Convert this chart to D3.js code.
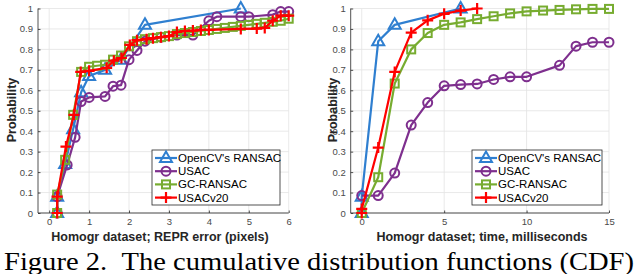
<!DOCTYPE html>
<html>
<head>
<meta charset="utf-8">
<script src="https://cdn.jsdelivr.net/npm/d3@7"></script>
<style>
  body { margin: 0; background: #fff; }
  svg { display: block; font-family: "Liberation Sans", Arial, sans-serif; }
</style>
</head>
<body>
<svg id="fig" width="636" height="274"></svg>
<script>
// series names and colours
const seriesNames = ["OpenCV's RANSAC", "USAC", "GC-RANSAC", "USACv20"];
const seriesColors = ["#2f7fd0", "#7e2f8e", "#77ac30", "#ff0000"];
const seriesMarkers = ["triangle", "circle", "square", "plus"];

// left panel: REPR error (pixels) -> probability
const errOpencv = [[0.2,0],[0.2,0.08],[0.4,0.24],[0.6,0.41],[0.8,0.59],[1.0,0.67],[1.4,0.7],[1.8,0.75],[2.4,0.92],[4.8,1.0]];
const errUsac = [[0.2,0],[0.2,0.08],[0.45,0.235],[0.65,0.37],[0.8,0.545],[1.0,0.565],[1.4,0.57],[1.6,0.62],[1.8,0.625],[2.0,0.75],[2.2,0.795],[2.4,0.84],[2.8,0.86],[3.2,0.87],[3.6,0.87],[4.0,0.94],[4.2,0.96],[4.8,0.96],[5.0,0.96],[5.6,0.97],[5.8,0.985],[6.0,0.985]];
const errGc = [[0.2,0],[0.2,0.09],[0.4,0.26],[0.6,0.48],[0.8,0.69],[1.0,0.715],[1.2,0.72],[1.4,0.725],[1.6,0.75],[1.8,0.77],[2.0,0.815],[2.2,0.84],[2.4,0.85],[2.6,0.855],[2.8,0.86],[3.0,0.865],[3.2,0.875],[3.4,0.88],[3.6,0.885],[3.8,0.89],[4.0,0.895],[4.2,0.9],[4.4,0.905],[4.6,0.91],[4.8,0.915],[5.0,0.92],[5.2,0.925],[5.4,0.93],[5.6,0.935],[5.8,0.94],[6.0,0.95]];
const errV20 = [[0.2,0],[0.2,0.08],[0.42,0.325],[0.62,0.48],[0.79,0.69],[1.0,0.695],[1.44,0.71],[1.62,0.745],[1.81,0.758],[2.02,0.822],[2.2,0.845],[2.44,0.85],[2.6,0.855],[2.8,0.86],[3.0,0.865],[3.2,0.885],[3.4,0.89],[3.6,0.892],[3.8,0.895],[4.0,0.895],[4.8,0.9],[5.2,0.902],[5.4,0.905],[5.6,0.94],[5.8,0.965],[6.0,0.965]];

// right panel: time (milliseconds) -> probability
const timeOpencv = [[0,0],[0,0.08],[1,0.84],[2,0.92],[6,1.0]];
const timeUsac = [[0,0.085],[1,0.085],[2,0.195],[3,0.43],[4,0.54],[5,0.622],[6,0.628],[7,0.631],[8,0.653],[9,0.666],[10,0.666],[12,0.722],[13,0.816],[14,0.835],[15,0.835]];
const timeGc = [[0,0],[1,0.175],[2,0.633],[3,0.8],[4,0.88],[5,0.92],[6,0.932],[7,0.948],[8,0.962],[9,0.976],[10,0.986],[11,0.99],[12,0.993],[13,0.996],[14,0.998],[15,0.998]];
const timeV20 = [[0,0],[0,0.02],[1,0.32],[2,0.69],[3,0.882],[4,0.942],[5,0.974],[6,0.99],[7,1.0]];

const yTicks = [0,0.1,0.2,0.3,0.4,0.5,0.6,0.7,0.8,0.9,1];
const errTicks = [0,1,2,3,4,5,6];
const timeTicks = [0,5,10,15];

const svg = d3.select("#fig");

function marker(g, type, x, y, color) {
  if (type === "triangle") {
    g.append("path").attr("d", `M${x},${y-6.5}L${x+6},${y+4}L${x-6},${y+4}Z`)
      .attr("fill", "none").attr("stroke", color).attr("stroke-width", 2);
  } else if (type === "circle") {
    g.append("circle").attr("cx", x).attr("cy", y).attr("r", 4.5)
      .attr("fill", "none").attr("stroke", color).attr("stroke-width", 2);
  } else if (type === "square") {
    g.append("rect").attr("x", x-4).attr("y", y-4).attr("width", 8).attr("height", 8)
      .attr("fill", "none").attr("stroke", color).attr("stroke-width", 2);
  } else {
    g.append("path").attr("d", `M${x-5.5},${y}H${x+5.5}M${x},${y-5.5}V${y+5.5}`)
      .attr("fill", "none").attr("stroke", color).attr("stroke-width", 2.2);
  }
}

function panel(opts) {
  const x = d3.scaleLinear().domain(opts.xDomain).range(opts.xRange);
  const y = d3.scaleLinear().domain([0, 1]).range([213, 8.5]);
  const g = svg.append("g");
  const [x0, x1] = opts.xRange;

  // grid
  g.selectAll(".gx").data(opts.xTicks).enter().append("line")
    .attr("x1", d => x(d)).attr("x2", d => x(d)).attr("y1", y(0)).attr("y2", y(1))
    .attr("stroke", "#e3e3e3").attr("stroke-width", 0.8);
  g.selectAll(".gy").data(yTicks).enter().append("line")
    .attr("x1", x0).attr("x2", x1).attr("y1", d => y(d)).attr("y2", d => y(d))
    .attr("stroke", "#e3e3e3").attr("stroke-width", 0.8);

  // axes
  const ax = g.append("g").attr("transform", `translate(0,${y(0)})`)
    .call(d3.axisBottom(x).tickValues(opts.xTicks).tickSize(-2.5).tickPadding(5).tickFormat(d3.format("d")));
  const ay = g.append("g").attr("transform", `translate(${x0},0)`)
    .call(d3.axisLeft(y).tickValues(yTicks).tickSize(-2.5).tickPadding(5).tickFormat(d => d === 0 || d === 1 ? d : d3.format(".1f")(d)));
  [ax, ay].forEach(a => {
    a.select(".domain").attr("stroke", "#262626").attr("stroke-width", 0.8);
    a.selectAll(".tick line").attr("stroke", "#262626").attr("stroke-width", 0.8);
    a.selectAll("text").attr("fill", "#4a4a4a").attr("font-size", 9.5).attr("font-family", "Liberation Sans, Arial, sans-serif");
  });
  ax.select(".domain").attr("d", `M${x0},0H${x1}`);
  ay.select(".domain").attr("d", `M0,${y(0)}V${y(1)}`);

  // series
  const line = d3.line().x(d => x(d[0])).y(d => y(d[1]));
  opts.data.forEach((pts, i) => {
    const s = g.append("g");
    s.append("path").datum(pts).attr("d", line)
      .attr("fill", "none").attr("stroke", seriesColors[i]).attr("stroke-width", 2.2)
      .attr("stroke-linejoin", "round");
    pts.forEach(p => marker(s, seriesMarkers[i], x(p[0]), y(p[1]), seriesColors[i]));
  });

  // labels
  g.append("text").attr("x", opts.xLabelX).attr("y", 241).attr("text-anchor", "middle")
    .attr("font-size", 12.5).attr("font-weight", "bold").attr("fill", "#262626").text(opts.xLabel);
  g.append("text").attr("transform", `translate(${opts.yLabelX},110) rotate(-90)`).attr("text-anchor", "middle")
    .attr("font-size", 12.5).attr("font-weight", "bold").attr("fill", "#262626").text("Probability");

  // legend
  const [lx, ly, lw, lh] = opts.legend;
  const lg = g.append("g");
  lg.append("rect").attr("x", lx).attr("y", ly).attr("width", lw).attr("height", lh)
    .attr("fill", "#fff").attr("stroke", "#262626").attr("stroke-width", 0.8);
  seriesNames.forEach((name, i) => {
    const ry = ly + 8 + i * 13.2;
    lg.append("line").attr("x1", lx + 3).attr("x2", lx + 25).attr("y1", ry).attr("y2", ry)
      .attr("stroke", seriesColors[i]).attr("stroke-width", 2.2);
    marker(lg, seriesMarkers[i], lx + 14, ry, seriesColors[i]);
    lg.append("text").attr("x", lx + 26).attr("y", ry + 4).attr("font-size", 11.5)
      .attr("fill", "#000").text(name);
  });
}

panel({
  xDomain: [-0.28, 6], xRange: [38, 288.7], xTicks: errTicks,
  data: [errOpencv, errUsac, errGc, errV20],
  xLabel: "Homogr dataset; REPR error (pixels)", xLabelX: 160, yLabelX: 16,
  legend: [152, 150, 128, 55]
});
panel({
  xDomain: [-0.67, 15], xRange: [350.7, 609], xTicks: timeTicks,
  data: [timeOpencv, timeUsac, timeGc, timeV20],
  xLabel: "Homogr dataset; time, milliseconds", xLabelX: 482, yLabelX: 337,
  legend: [472, 150, 130, 55]
});

svg.append("text").attr("x", 4).attr("y", 270)
  .attr("font-family", "'Liberation Serif', 'Times New Roman', serif").attr("font-size", 26)
  .attr("textLength", 630).attr("lengthAdjust", "spacingAndGlyphs")
  .text("Figure 2.\u00a0\u00a0The cumulative distribution functions (CDF)");
</script>
</body>
</html>
